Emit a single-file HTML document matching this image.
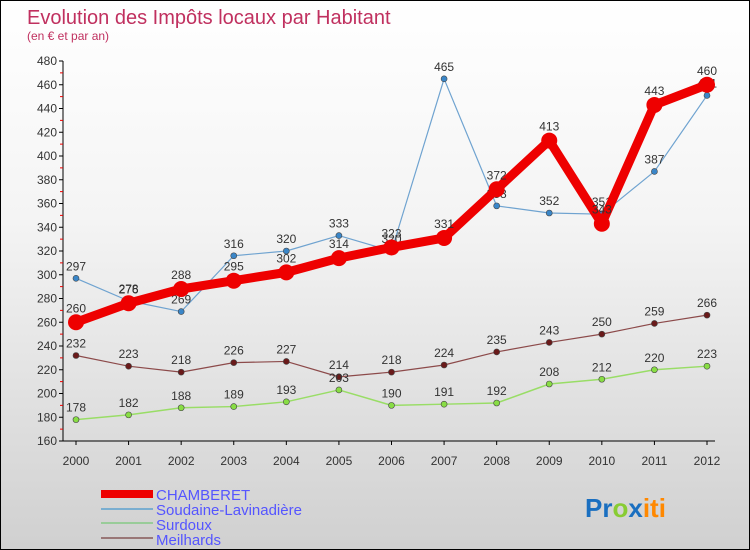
<!DOCTYPE html>
<html><head><meta charset="utf-8"><style>
body{margin:0}
#c{width:748px;height:548px;border:1px solid #000;background:linear-gradient(#fff 0%,#f4f4f4 40%,#d0d0d0 100%);position:relative;font-family:"Liberation Sans",sans-serif;overflow:hidden}
svg text{font-family:"Liberation Sans",sans-serif}
</style></head><body>
<div id="c">
<svg id="s" width="748" height="548">
<text x="26" y="23" font-size="20" fill="#c0305f">Evolution des Impôts locaux par Habitant</text>
<text x="26" y="39" font-size="12" fill="#c0305f">(en € et par an)</text>
<g id="legend">
<rect x="100" y="489" width="52" height="8" fill="#e00"/>
<text x="155" y="499" font-size="15" fill="#55f">CHAMBERET</text>
<rect x="100" y="507" width="52" height="2" fill="#7aaed0"/>
<text x="155" y="514" font-size="15" fill="#55f">Soudaine-Lavinadière</text>
<rect x="100" y="521" width="52" height="2" fill="#9c9"/>
<text x="155" y="529" font-size="15" fill="#55f">Surdoux</text>
<rect x="100" y="536" width="52" height="2" fill="#977"/>
<text x="155" y="544" font-size="15" fill="#55f">Meilhards</text>
</g>
<text x="584" y="516" font-size="26" font-weight="bold"><tspan fill="#1a6fc0">Pr</tspan><tspan fill="#8c3">o</tspan><tspan fill="#1a6fc0">x</tspan><tspan fill="#f80">iti</tspan></text>
</svg></div>
<script>
const years=[2000,2001,2002,2003,2004,2005,2006,2007,2008,2009,2010,2011,2012];
const yTicks=[160,180,200,220,240,260,280,300,320,340,360,380,400,420,440,460,480];
const chamberet=[260,276,288,295,302,314,323,331,372,413,343,443,460];
const soudaine=[297,278,269,316,320,333,320,465,358,352,351,387,451];
const surdoux=[178,182,188,189,193,203,190,191,192,208,212,220,223];
const meilhards=[232,223,218,226,227,214,218,224,235,243,250,259,266];
const NS="http://www.w3.org/2000/svg",svg=document.getElementById('s');
const X=i=>75+i*(706-75)/12, Y=v=>60+(480-v)*380/320;
function el(t,a,p){const e=document.createElementNS(NS,t);for(const k in a)e.setAttribute(k,a[k]);(p||svg).appendChild(e);return e;}
const ax=el('g',{});


el('line',{x1:62,y1:Y(480),x2:62,y2:Y(160),stroke:'#000'},ax);
el('line',{x1:62,y1:Y(160),x2:X(12)+8,y2:Y(160),stroke:'#000'},ax);
yTicks.forEach((v,i)=>{
 el('line',{x1:58,y1:Y(v),x2:62,y2:Y(v),stroke:'#000'},ax);
 if(i<yTicks.length-1)el('line',{x1:59,y1:Y(v+10),x2:62,y2:Y(v+10),stroke:'#e00'},ax);
 const t=el('text',{x:56,y:Y(v)+4,'font-size':12,fill:'#333','text-anchor':'end'},ax);t.textContent=v;
 
 
});
years.forEach((y,i)=>{
 el('line',{x1:X(i),y1:Y(160),x2:X(i),y2:Y(160)+4,stroke:'#000'},ax);
 const t=el('text',{x:X(i),y:464,'font-size':12,fill:'#333','text-anchor':'middle'},ax);t.textContent=y;
 
 
});
function series(name,data,color,w,r,dot,lblOff){
 const g=el('g',{});
 
 
 el('polyline',{points:data.map((v,i)=>X(i)+','+Y(v)).join(' '),fill:'none',stroke:color,'stroke-width':w,'stroke-linejoin':'round'},g);
 data.forEach((v,i)=>{
  const c=el('circle',{cx:X(i),cy:Y(v),r:r,fill:dot,stroke:'#444','stroke-width':r>5?0:0.6},g);
  
  
  const t=el('text',{x:X(i),y:Y(v)+lblOff,'font-size':12,fill:'#333','text-anchor':'middle'},g);t.textContent=v;
  
  
 });
}
series('meilhards',meilhards,'#8c4a4a',1.2,3,'#6a1a1a',-8);
series('surdoux',surdoux,'#9d6',1.5,3,'#8d4',-8);
series('soudaine',soudaine,'#6fa3d0',1.2,3,'#3a86c8',-8);
series('chamberet',chamberet,'#e00',9,8,'#e00',-10);
</script>
</body></html>
